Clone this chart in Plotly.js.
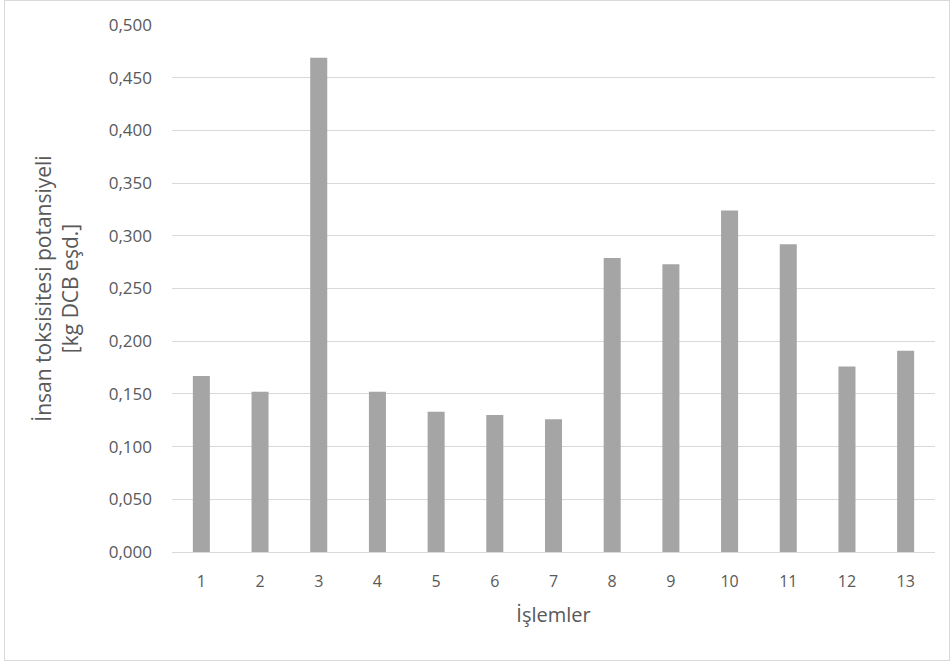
<!DOCTYPE html>
<html>
<head>
<meta charset="utf-8">
<script src="https://cdn.plot.ly/plotly-3.0.1.min.js"></script>
<style>
html,body{margin:0;padding:0;background:#fff;}
#wrap{position:relative;width:952px;height:664px;}
#frame{position:absolute;left:4px;top:0px;width:946px;height:661px;border:1px solid #d9d9d9;box-sizing:border-box;pointer-events:none;z-index:5;}
#chart{position:absolute;left:0;top:0;width:952px;height:664px;}
</style>
</head>
<body>
<div id="wrap"><div id="chart"></div><div id="frame"></div></div>
<script>
var categories = ["1","2","3","4","5","6","7","8","9","10","11","12","13"];
var values = [0.167, 0.152, 0.469, 0.152, 0.133, 0.130, 0.126, 0.279, 0.273, 0.324, 0.292, 0.176, 0.191];
var yTickVals = [0, 0.05, 0.1, 0.15, 0.2, 0.25, 0.3, 0.35, 0.4, 0.45, 0.5];
var yTitle = "İnsan toksisitesi potansiyeli<br>[kg DCB eşd.]";
var xTitle = "İşlemler";

var font = "'Open Sans', sans-serif";
Plotly.newPlot("chart", [{
  type: "bar",
  x: categories,
  y: values,
  marker: {color: "#a5a5a5"},
  hoverinfo: "x+y"
}], {
  width: 952, height: 664,
  margin: {l: 172, r: 17, t: 25, b: 112},
  paper_bgcolor: "#fff", plot_bgcolor: "#fff",
  separators: ",.",
  bargap: 0.71,
  showlegend: false,
  font: {family: font, color: "#595959", size: 16},
  xaxis: {
    type: "category",
    showgrid: false, showline: false, zeroline: false,
    ticks: "", tickfont: {size: 16, color: "#595959"},
    ticklabelstandoff: 18,
    title: {text: xTitle, font: {size: 20, color: "#595959"}, standoff: 16}
  },
  yaxis: {
    range: [0, 0.5],
    tickvals: yTickVals,
    tickformat: ".3f",
    showgrid: true, gridcolor: "#d9d9d9", gridwidth: 1,
    zeroline: true, zerolinecolor: "#d9d9d9", zerolinewidth: 1,
    showline: false, ticks: "",
    ticklabelstandoff: 19,
    tickfont: {size: 17, color: "#595959"},
    title: {text: yTitle, font: {size: 21, color: "#595959"}, standoff: 24}
  }
}, {displayModeBar: false, staticPlot: true});
</script>
</body>
</html>
